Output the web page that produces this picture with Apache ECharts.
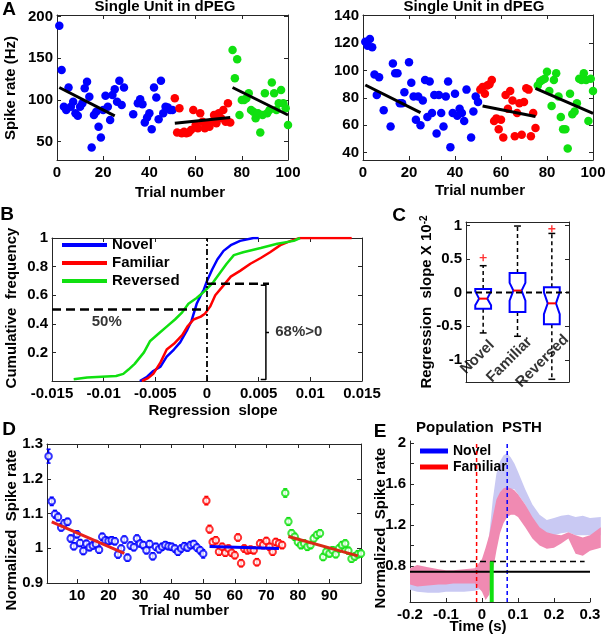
<!DOCTYPE html>
<html><head><meta charset="utf-8">
<script src="https://cdn.jsdelivr.net/npm/echarts@6/dist/echarts.min.js"></script>
<style>html,body{margin:0;padding:0;background:#fff}#c{width:608px;height:639px}</style>
</head><body><div id="c"></div>
<script>
// ---------------- DATA ----------------
// Panel A (left unit): [trial, spike rate Hz]
const a1Novel = [[1,189],[2,136],[3,92],[4,88],[5,115],[6,92],[7,98],[8,84],[9,81],[10,92],[11,96],[12,114],[13,122],[14,104],[15,43],[16,82],[17,86],[18,68],[19,55],[20,88],[21,105],[22,92],[23,76],[24,106],[25,113],[26,98],[27,123],[28,94],[29,115],[33,83],[35,96],[36,101],[37,95],[38,73],[39,79],[40,84],[41,65],[42,115],[43,103],[44,77],[45,123],[46,84],[47,92],[48,91],[49,88],[50,88]];
const a1Familiar = [[51,102],[52,61],[53,90],[54,60],[55,62],[56,60],[57,61],[58,64],[59,88],[60,70],[61,66],[62,84],[63,74],[64,66],[65,71],[66,68],[67,74],[68,82],[69,72],[70,84],[71,78],[72,88],[73,74],[74,96],[75,73]];
const a1Reversed = [[76,160],[77,126],[78,149],[79,82],[80,100],[81,100],[82,102],[83,108],[84,88],[85,86],[86,78],[87,84],[88,61],[89,82],[90,108],[91,84],[92,88],[93,121],[94,108],[95,88],[96,96],[97,112],[98,96],[99,90],[100,70]];
const a1Fits = [[[1,115],[25,81]], [[51,72],[75,79]], [[76,115],[100,82]]];
// Panel A (right unit)
const a2Novel = [[1,121],[2,118],[3,123],[4,117],[5,97],[6,82],[7,95],[9,71],[12,59],[13,105],[14,98],[15,98],[16,76],[17,76],[18,84],[20,106],[21,91],[22,81],[23,64],[24,81],[25,60],[26,78],[27,93],[28,66],[29,92],[30,69],[31,82],[32,54],[33,82],[34,69],[35,59],[36,81],[37,92],[38,44],[39,69],[40,83],[41,67],[42,72],[43,69],[44,63],[45,86],[47,51],[48,70],[49,81],[50,77]];
const a2Familiar = [[51,86],[52,88],[53,83],[54,89],[55,90],[56,93],[57,63],[58,65],[59,57],[60,64],[61,51],[62,82],[63,72],[64,85],[65,78],[66,52],[67,69],[68,76],[69,53],[70,77],[71,87],[72,86],[73,52],[74,69],[75,58]];
const a2Reversed = [[76,89],[77,92],[78,93],[79,94],[80,99],[81,85],[82,74],[83,93],[84,98],[85,81],[86,66],[87,57],[88,57],[89,43],[90,83],[91,68],[92,70],[93,76],[94,94],[95,93],[96,98],[97,93],[98,63],[99,94],[100,85]];
const a2Fits = [[[1,89.4],[25,69.2]], [[52,74],[75,66.3]], [[75,87],[100,68.7]]];

// Panel B: cumulative distributions of regression slope
const bNovelX = [-0.0065,-0.0058,-0.0052,-0.0045,-0.0039,-0.0032,-0.0026,-0.0019,-0.0015,-0.0010,-0.0006,-0.0003,0.0000,0.0005,0.0010,0.0016,0.0023,0.0032,0.0045,0.0050];
const bNovelY = [0.0,0.03,0.07,0.10,0.17,0.22,0.27,0.36,0.42,0.54,0.60,0.64,0.70,0.78,0.85,0.91,0.95,0.98,1.0,1.0];
const bFamiliarX = [-0.0063,-0.0057,-0.0052,-0.0045,-0.0039,-0.0032,-0.0024,-0.0019,-0.0013,-0.0006,-0.0002,0.0003,0.0008,0.0015,0.0023,0.0032,0.0042,0.0052,0.0061,0.0071,0.0081,0.0090,0.0140];
const bFamiliarY = [0.0,0.02,0.05,0.13,0.22,0.26,0.32,0.38,0.43,0.45,0.47,0.52,0.60,0.66,0.73,0.77,0.82,0.86,0.90,0.95,0.98,1.0,1.0];
const bReversedX = [-0.0129,-0.0116,-0.0088,-0.0081,-0.0076,-0.0070,-0.0061,-0.0055,-0.0047,-0.0039,-0.0031,-0.0024,-0.0018,-0.0010,-0.0002,0.0006,0.0013,0.0019,0.0026,0.0035,0.0052,0.0068,0.0084,0.0090];
const bReversedY = [0.012,0.025,0.035,0.05,0.08,0.12,0.20,0.28,0.33,0.38,0.43,0.48,0.54,0.58,0.63,0.69,0.76,0.82,0.88,0.90,0.93,0.96,0.98,1.0];
const bMedianLevel = 0.5, bPositiveLevel = 0.68, bBracketX = 0.0057;

// Panel C: notched boxplots (regression slope x 10^-2)
const cCategories = ['Novel','Familiar','Reversed'];
const cWhiskerLow = [-0.60,-0.65,-1.29];
const cQ1 = [-0.24,-0.29,-0.47];
const cMedian = [-0.09,0.03,-0.16];
const cQ3 = [0.055,0.29,0.08];
const cWhiskerHigh = [0.40,0.99,0.88];
const cNotchLow = [-0.19,-0.12,-0.32];
const cNotchHigh = [0.02,0.145,0.005];
const cOutliers = [[1,0.52],[3,0.95]];

// Panel D: normalized spike rate per trial (mean, s.e.m.)
const dNovel = [1.265,1.135,1.098,1.09,1.06,1.072,1.076,1.028,1.006,1.04,1.015,0.992,1.013,1.003,1.008,1.012,0.996,1.033,1.023,1.021,1.023,1.02,0.982,0.999,1.025,0.973,1.008,1.003,1.028,1.014,1.009,0.994,1.012,0.977,1.004,0.997,1.004,1.009,1.006,1.004,0.999,0.99,0.999,1.006,1.002,1.009,1.012,1.002,0.994,0.984];
const dNovelErr = [0.02,0.012,0.011,0.011,0.01,0.01,0.01,0.01,0.01,0.01,0.01,0.01,0.01,0.01,0.01,0.01,0.01,0.01,0.01,0.01,0.01,0.01,0.01,0.01,0.01,0.01,0.01,0.01,0.01,0.01,0.01,0.01,0.01,0.01,0.01,0.01,0.01,0.01,0.01,0.01,0.01,0.01,0.01,0.01,0.01,0.01,0.01,0.01,0.01,0.012];
const dFamiliar = [1.137,1.055,1.018,1.023,0.99,1.004,0.987,0.999,0.987,0.98,1.031,0.957,0.999,0.994,0.996,0.994,0.96,1.014,1.009,1.021,1.004,0.99,1.018,1.014,1.009];
const dFamiliarErr = [0.012,0.011,0.01,0.01,0.01,0.01,0.01,0.01,0.01,0.01,0.01,0.01,0.01,0.01,0.01,0.01,0.01,0.01,0.01,0.01,0.01,0.01,0.01,0.01,0.01];
const dReversed = [1.159,1.077,1.043,1.033,1.018,1.009,1.014,1.004,1.009,1.028,1.038,1.043,0.975,0.99,0.985,0.994,0.983,0.999,1.009,1.014,0.993,0.97,0.976,0.983,0.985];
const dReversedErr = [0.012,0.011,0.01,0.01,0.01,0.01,0.01,0.01,0.01,0.01,0.01,0.01,0.01,0.01,0.01,0.01,0.01,0.01,0.01,0.01,0.01,0.01,0.01,0.01,0.01];
const dFits = [[[2,1.076],[25,0.985]], [[52,1.005],[74,0.999]], [[77,1.034],[99,0.978]]];

// Panel E: population PSTH bands (normalized spike rate)
const eTime = [-0.2,-0.18,-0.15,-0.12,-0.1,-0.08,-0.05,-0.02,0,0.01,0.02,0.03,0.04,0.05,0.06,0.07,0.08,0.09,0.1,0.12,0.14,0.16,0.18,0.2,0.22,0.24,0.26,0.28,0.3,0.33];
const eFamiliarHi = [0.78,0.81,0.79,0.77,0.76,0.76,0.77,0.78,0.87,0.98,1.1,1.28,1.45,1.52,1.56,1.57,1.56,1.54,1.5,1.4,1.28,1.18,1.13,1.11,1.1,1.13,1.1,1.08,1.1,1.18];
const eFamiliarLo = [0.62,0.6,0.61,0.62,0.62,0.63,0.63,0.63,0.55,0.47,0.52,0.75,0.95,1.12,1.22,1.28,1.3,1.3,1.28,1.18,1.07,1.0,0.97,0.98,1.02,1.07,0.92,0.9,0.95,0.98];
const eNovelHi = [0.75,0.77,0.76,0.75,0.74,0.74,0.75,0.75,0.8,0.92,1.1,1.45,1.7,1.82,1.88,1.9,1.86,1.8,1.72,1.55,1.4,1.3,1.25,1.27,1.29,1.3,1.28,1.29,1.27,1.28];
const eNovelLo = [0.57,0.55,0.54,0.54,0.55,0.55,0.55,0.56,0.58,0.6,0.7,0.9,1.1,1.3,1.45,1.52,1.55,1.55,1.5,1.4,1.25,1.15,1.1,1.1,1.12,1.13,1.1,1.1,1.1,1.1];
const eOnsetFamiliar = -0.015, eOnsetNovel = 0.07, eLatency = 0.027;
const eBaseline = 0.745, eThreshold = 0.845;

// Tick values
const a1XTicks = [0,20,40,60,80,100], a1YTicks = [50,100,150,200];
const a2XTicks = [0,20,40,60,80,100], a2YTicks = [40,60,80,100,120,140];
const bXTicks = [-0.015,-0.01,-0.005,0,0.005,0.01,0.015], bYTicks = [0,0.2,0.4,0.6,0.8,1], bYLabels = [0.2,0.4,0.6,0.8,1];
const cYTicks = [-1,-0.5,0,0.5,1];
const dXTicks = [10,20,30,40,50,60,70,80,90], dYTicks = [0.9,1.0,1.1,1.2,1.3];
const eXTicks = [-0.2,-0.1,0,0.1,0.2,0.3], eYTicks = [0.6,0.8,1.0,1.2,1.4,1.6,1.8,2.0], eYLabels = [0.8,1.2,1.6,2];

// ---------------- STYLE / BUILD ----------------
const FONT = '"Liberation Sans", Arial, sans-serif';
const BLUE = '#0000ff', RED = '#ff0000', GREEN = '#10e010', AX = '#262626';
const fmt = v => String(Math.round(v * 1e6) / 1e6);

function vAxis(o) {
  return {
    type: 'value', gridIndex: o.g, position: o.pos, min: o.min, max: o.max,
    splitLine: {show: false},
    axisLine: {show: true, onZero: false, lineStyle: {color: AX, width: 1}},
    axisTick: {show: !!o.ticks, inside: true, length: 4, customValues: o.ticks || [0], lineStyle: {color: AX, width: 1}},
    axisLabel: {show: !!o.labels, customValues: o.labels || [0], margin: o.margin || 5,
      fontFamily: FONT, fontWeight: 'bold', fontSize: 15, color: '#000', formatter: fmt}
  };
}

const grids = [
  {left: 57, top: 15, width: 231, height: 145},
  {left: 363, top: 15, width: 230, height: 145},
  {left: 52, top: 238, width: 310, height: 143},
  {left: 466, top: 222, width: 103, height: 160},
  {left: 47, top: 444, width: 314, height: 139},
  {left: 410, top: 441, width: 180, height: 161}
].map(g => Object.assign({outerBoundsMode: 'none', containLabel: false}, g));

const xAxes = [
  vAxis({g:0,pos:'bottom',min:0,max:100,ticks:a1XTicks,labels:a1XTicks}),
  vAxis({g:0,pos:'top',min:0,max:100,ticks:a1XTicks}),
  vAxis({g:1,pos:'bottom',min:0,max:100,ticks:a2XTicks,labels:a2XTicks}),
  vAxis({g:1,pos:'top',min:0,max:100,ticks:a2XTicks}),
  vAxis({g:2,pos:'bottom',min:-0.015,max:0.015,ticks:bXTicks,labels:bXTicks}),
  vAxis({g:2,pos:'top',min:-0.015,max:0.015,ticks:bXTicks}),
  vAxis({g:3,pos:'bottom',min:0.5,max:3.5}),
  vAxis({g:3,pos:'top',min:0.5,max:3.5}),
  vAxis({g:4,pos:'bottom',min:0.5,max:100,ticks:dXTicks,labels:dXTicks}),
  vAxis({g:4,pos:'top',min:0.5,max:100,ticks:dXTicks}),
  vAxis({g:5,pos:'bottom',min:-0.2,max:0.3,ticks:eXTicks,labels:eXTicks})
];
const yAxes = [
  vAxis({g:0,pos:'left',min:28,max:202,ticks:a1YTicks,labels:a1YTicks,margin:4}),
  vAxis({g:0,pos:'right',min:28,max:202,ticks:a1YTicks}),
  vAxis({g:1,pos:'left',min:34.6,max:140.5,ticks:a2YTicks,labels:a2YTicks,margin:4}),
  vAxis({g:1,pos:'right',min:34.6,max:140.5,ticks:a2YTicks}),
  vAxis({g:2,pos:'left',min:0,max:1,ticks:bYTicks,labels:bYLabels,margin:4}),
  vAxis({g:2,pos:'right',min:0,max:1,ticks:bYTicks}),
  vAxis({g:3,pos:'left',min:-1.33,max:1.05,ticks:cYTicks,labels:cYTicks,margin:4}),
  vAxis({g:3,pos:'right',min:-1.33,max:1.05,ticks:cYTicks}),
  vAxis({g:4,pos:'left',min:0.9,max:1.3,ticks:dYTicks,labels:dYTicks,margin:4}),
  vAxis({g:4,pos:'right',min:0.9,max:1.3,ticks:dYTicks}),
  vAxis({g:5,pos:'left',min:0.45,max:2.02,ticks:eYTicks,labels:eYLabels,margin:4})
];

const series = [];
function line(xi, yi, data, color, width, dash, z, name) {
  const s = {type: 'line', xAxisIndex: xi, yAxisIndex: yi, data, symbol: 'none', silent: true, z: z || 3,
    lineStyle: {color, width, type: dash || 'solid'}, itemStyle: {color}, animation: false};
  if (name) s.name = name;
  series.push(s);
}
function dots(xi, yi, data, color, size) {
  series.push({type: 'scatter', xAxisIndex: xi, yAxisIndex: yi, data, symbolSize: size, silent: true,
    itemStyle: {color, opacity: 1}, animation: false, z: 2});
}
function label(xi, yi, pt, text, align, size) {
  series.push({type: 'scatter', xAxisIndex: xi, yAxisIndex: yi, data: [pt], symbolSize: 0.01, silent: true,
    itemStyle: {color: 'transparent'}, animation: false, z: 6,
    label: {show: true, position: 'inside', formatter: text, align: align || 'center', verticalAlign: 'middle',
      fontFamily: FONT, fontWeight: 'bold', fontSize: size || 15, color: '#000'}});
}
const zip = (xs, ys) => xs.map((x, i) => [x, ys[i]]);

// Panel A
[[0, a1Novel, a1Familiar, a1Reversed, a1Fits], [2, a2Novel, a2Familiar, a2Reversed, a2Fits]].forEach(([ax, n, f, r, fits]) => {
  dots(ax, ax, n, BLUE, 8.5); dots(ax, ax, f, RED, 8.5); dots(ax, ax, r, GREEN, 8.5);
  fits.forEach(seg => line(ax, ax, seg, '#000', 3, 'solid', 4));
});

// Panel B
line(4, 4, zip(bNovelX, bNovelY), BLUE, 2.5, 'solid', 3, 'Novel');
line(4, 4, zip(bFamiliarX, bFamiliarY), RED, 2.5, 'solid', 3, 'Familiar');
line(4, 4, zip(bReversedX, bReversedY), GREEN, 2.5, 'solid', 3, 'Reversed');
line(4, 4, [[-0.015, bMedianLevel], [0, bMedianLevel]], '#000', 2.5, [9, 5], 5);
line(4, 4, [[0, 0], [0, 1]], '#000', 1.8, [6, 3, 2, 3], 5);
line(4, 4, [[0, bPositiveLevel], [0.006, bPositiveLevel]], '#000', 2.5, [9, 5], 5);
line(4, 4, [[bBracketX - 0.0005, bPositiveLevel - 0.01], [bBracketX, bPositiveLevel - 0.01], [bBracketX, 0.01], [bBracketX - 0.0005, 0.01]], '#000', 1.5, 'solid', 5);
line(4, 4, [[bBracketX, 0.34], [bBracketX + 0.0003, 0.34]], '#000', 1.5, 'solid', 5);
label(4, 4, [-0.0097, 0.415], '50%', 'center');
label(4, 4, [0.0066, 0.344], '68%>0', 'left');

// Panel C
series.push({
  type: 'custom', xAxisIndex: 6, yAxisIndex: 6, silent: true, animation: false, z: 3, clip: false,
  data: cCategories.map((c, i) => [i + 1, cWhiskerLow[i], cQ1[i], cMedian[i], cQ3[i], cWhiskerHigh[i], cNotchLow[i], cNotchHigh[i]]),
  renderItem(params, api) {
    const x = api.value(0), wl = api.value(1), q1 = api.value(2), md = api.value(3), q3 = api.value(4),
          wh = api.value(5), nl = api.value(6), nh = api.value(7);
    const hw = 0.23, nw = 0.12, cw = 0.1;
    const P = (dx, v) => api.coord([x + dx, v]);
    const seg = (a, b, style) => ({type: 'line', shape: {x1: a[0], y1: a[1], x2: b[0], y2: b[1]}, style});
    const dashed = {stroke: '#000', lineWidth: 1.5, lineDash: [4, 3]};
    const solid = {stroke: '#000', lineWidth: 1.5};
    return {type: 'group', children: [
      seg(P(0, q3), P(0, wh), dashed),
      seg(P(0, q1), P(0, wl), dashed),
      seg(P(-cw, wh), P(cw, wh), solid),
      seg(P(-cw, wl), P(cw, wl), solid),
      {type: 'polygon', shape: {points: [P(-hw, q3), P(hw, q3), P(hw, nh), P(nw, md), P(hw, nl), P(hw, q1), P(-hw, q1), P(-hw, nl), P(-nw, md), P(-hw, nh)]},
       style: {fill: 'none', stroke: BLUE, lineWidth: 2}},
      seg(P(-nw, md), P(nw, md), {stroke: RED, lineWidth: 2})
    ]};
  }
});
series.push({type: 'scatter', xAxisIndex: 6, yAxisIndex: 6, data: cOutliers, silent: true, animation: false, z: 4,
  symbol: 'path://M4,0H6V4H10V6H6V10H4V6H0V4H4Z', symbolSize: 7, itemStyle: {color: RED}});
line(6, 6, [[0.5, 0], [3.5, 0]], '#000', 2, [6, 4], 5);
const mctx = document.createElement('canvas').getContext('2d');
mctx.font = 'bold 15px "Liberation Sans"';
series.push({type: 'scatter', xAxisIndex: 6, yAxisIndex: 6, silent: true, animation: false, z: 6,
  symbolSize: 0.01, itemStyle: {color: 'transparent'},
  data: cCategories.map((c, i) => {
    const w = mctx.measureText(c).width;
    return {value: [i + 1, -1.33], label: {offset: [22 - w * 0.707, -14]}};
  }),
  label: {show: true, position: 'inside', formatter: p => cCategories[p.dataIndex], rotate: 45,
    align: 'left', verticalAlign: 'bottom', fontFamily: FONT, fontWeight: 'bold', fontSize: 15, color: '#000'}});

// Panel D
function errRender(color) {
  return function (params, api) {
    const x = api.value(0), y = api.value(1), e = api.value(2);
    const t = api.coord([x, y + e]), b = api.coord([x, y - e]);
    const st = {stroke: color, lineWidth: 1.5};
    return {type: 'group', children: [
      {type: 'line', shape: {x1: t[0], y1: t[1], x2: b[0], y2: b[1]}, style: st},
      {type: 'line', shape: {x1: t[0] - 2, y1: t[1], x2: t[0] + 2, y2: t[1]}, style: st},
      {type: 'line', shape: {x1: b[0] - 2, y1: b[1], x2: b[0] + 2, y2: b[1]}, style: st}
    ]};
  };
}
[[dNovel, dNovelErr, 1, BLUE], [dFamiliar, dFamiliarErr, 51, RED], [dReversed, dReversedErr, 76, GREEN]].forEach(([vals, errs, start, color]) => {
  series.push({type: 'custom', xAxisIndex: 8, yAxisIndex: 8, silent: true, animation: false, z: 2,
    data: vals.map((v, i) => [start + i, v, errs[i]]), renderItem: errRender(color)});
  series.push({type: 'scatter', xAxisIndex: 8, yAxisIndex: 8, silent: true, animation: false, z: 3,
    data: vals.map((v, i) => [start + i, v]), symbol: 'emptyCircle', symbolSize: 6.5,
    itemStyle: {color: color, borderColor: color, borderWidth: 2.2}});
});
line(8, 8, dFits[0], '#e8201c', 3, 'solid', 4);
line(8, 8, dFits[1], BLUE, 3, 'solid', 4);
line(8, 8, dFits[2], '#d82a14', 3, 'solid', 4);

// Panel E
function bandRender(lo, hi, color) {
  return function (params, api) {
    if (params.dataIndex !== 0) return null;
    const pts = [];
    for (let i = 0; i < eTime.length; i++) pts.push(api.coord([eTime[i], hi[i]]));
    for (let i = eTime.length - 1; i >= 0; i--) pts.push(api.coord([eTime[i], lo[i]]));
    return {type: 'polygon', shape: {points: pts}, style: {fill: color}};
  };
}
series.push({type: 'custom', name: 'NovelBand', xAxisIndex: 10, yAxisIndex: 10, silent: true, animation: false, z: 1, clip: false,
  data: eTime.map((t, i) => [t, eNovelLo[i], eNovelHi[i]]), renderItem: bandRender(eNovelLo, eNovelHi, '#c9c9f3')});
series.push({type: 'custom', name: 'FamiliarBand', xAxisIndex: 10, yAxisIndex: 10, silent: true, animation: false, z: 1, clip: false,
  data: eTime.map((t, i) => [t, eFamiliarLo[i], eFamiliarHi[i]]), renderItem: bandRender(eFamiliarLo, eFamiliarHi, '#f08ab2')});
line(10, 10, [[eOnsetFamiliar, 0.45], [eOnsetFamiliar, 2.02]], RED, 1.5, [4, 3], 5);
line(10, 10, [[eOnsetNovel, 0.45], [eOnsetNovel, 2.02]], BLUE, 1.5, [4, 3], 5);
line(10, 10, [[-0.2, eThreshold], [0.285, eThreshold]], '#000', 1.5, [6, 4], 5);
line(10, 10, [[-0.2, eBaseline], [0.3, eBaseline]], '#000', 2, 'solid', 5);
line(10, 10, [[eLatency, 0.45], [eLatency, eThreshold]], GREEN, 4, 'solid', 6);

// Texts
function txt(text, x, y, size, rot, extra) {
  return {type: 'text', x, y, rotation: rot || 0, silent: true, z: 10,
    style: Object.assign({text, fontFamily: FONT, fontWeight: 'bold', fontSize: size, fill: '#000', align: 'center', verticalAlign: 'middle'}, extra || {})};
}
const R90 = Math.PI / 2;
const graphics = [
  txt('A', 9, 10, 19), txt('B', 7, 215, 19), txt('C', 399, 216, 19), txt('D', 9, 430, 19), txt('E', 380, 432, 19),
  txt('Single Unit in dPEG', 165, 7, 15), txt('Single Unit in dPEG', 474, 7, 15),
  txt('Spike rate (Hz)', 11, 88, 15, R90),
  txt('Trial number', 180, 193, 15), txt('Trial number', 480, 191, 15),
  txt('Cumulative  frequency', 12, 308, 15, R90),
  txt('Regression  slope', 213, 411, 15),
  txt('Regression  slope X 10{sup|-2}', 427, 302, 15, R90, {rich: {sup: {fontSize: 10, fontFamily: FONT, fontWeight: 'bold', verticalAlign: 'top', padding: [0, 0, 6, 0]}}}),
  txt('Normalized  Spike rate', 12, 530, 15, R90),
  txt('Trial number', 184, 611, 15),
  txt('Population  PSTH', 479, 428, 15),
  txt('Normalized  Spike rate', 381, 528, 15, R90),
  txt('Time (s)', 478, 627, 15)
];

const chart = echarts.init(document.getElementById('c'), null, {renderer: 'canvas'});
chart.setOption({
  animation: false,
  backgroundColor: '#fff',
  grid: grids,
  xAxis: xAxes,
  yAxis: yAxes,
  legend: [
    {left: 62, top: 237, orient: 'vertical', padding: 0, itemWidth: 45, itemHeight: 4, itemGap: 2, icon: 'rect', selectedMode: false,
     data: ['Novel', 'Familiar', 'Reversed'], textStyle: {fontFamily: FONT, fontWeight: 'bold', fontSize: 15, color: '#000', lineHeight: 16}},
    {left: 420, top: 444, orient: 'vertical', padding: 0, itemWidth: 28, itemHeight: 5, itemGap: 2, icon: 'rect', selectedMode: false,
     data: ['Novel', 'Familiar'], textStyle: {fontFamily: FONT, fontWeight: 'bold', fontSize: 14, color: '#000', lineHeight: 14}}
  ],
  graphic: graphics,
  series
});
</script></body></html>
